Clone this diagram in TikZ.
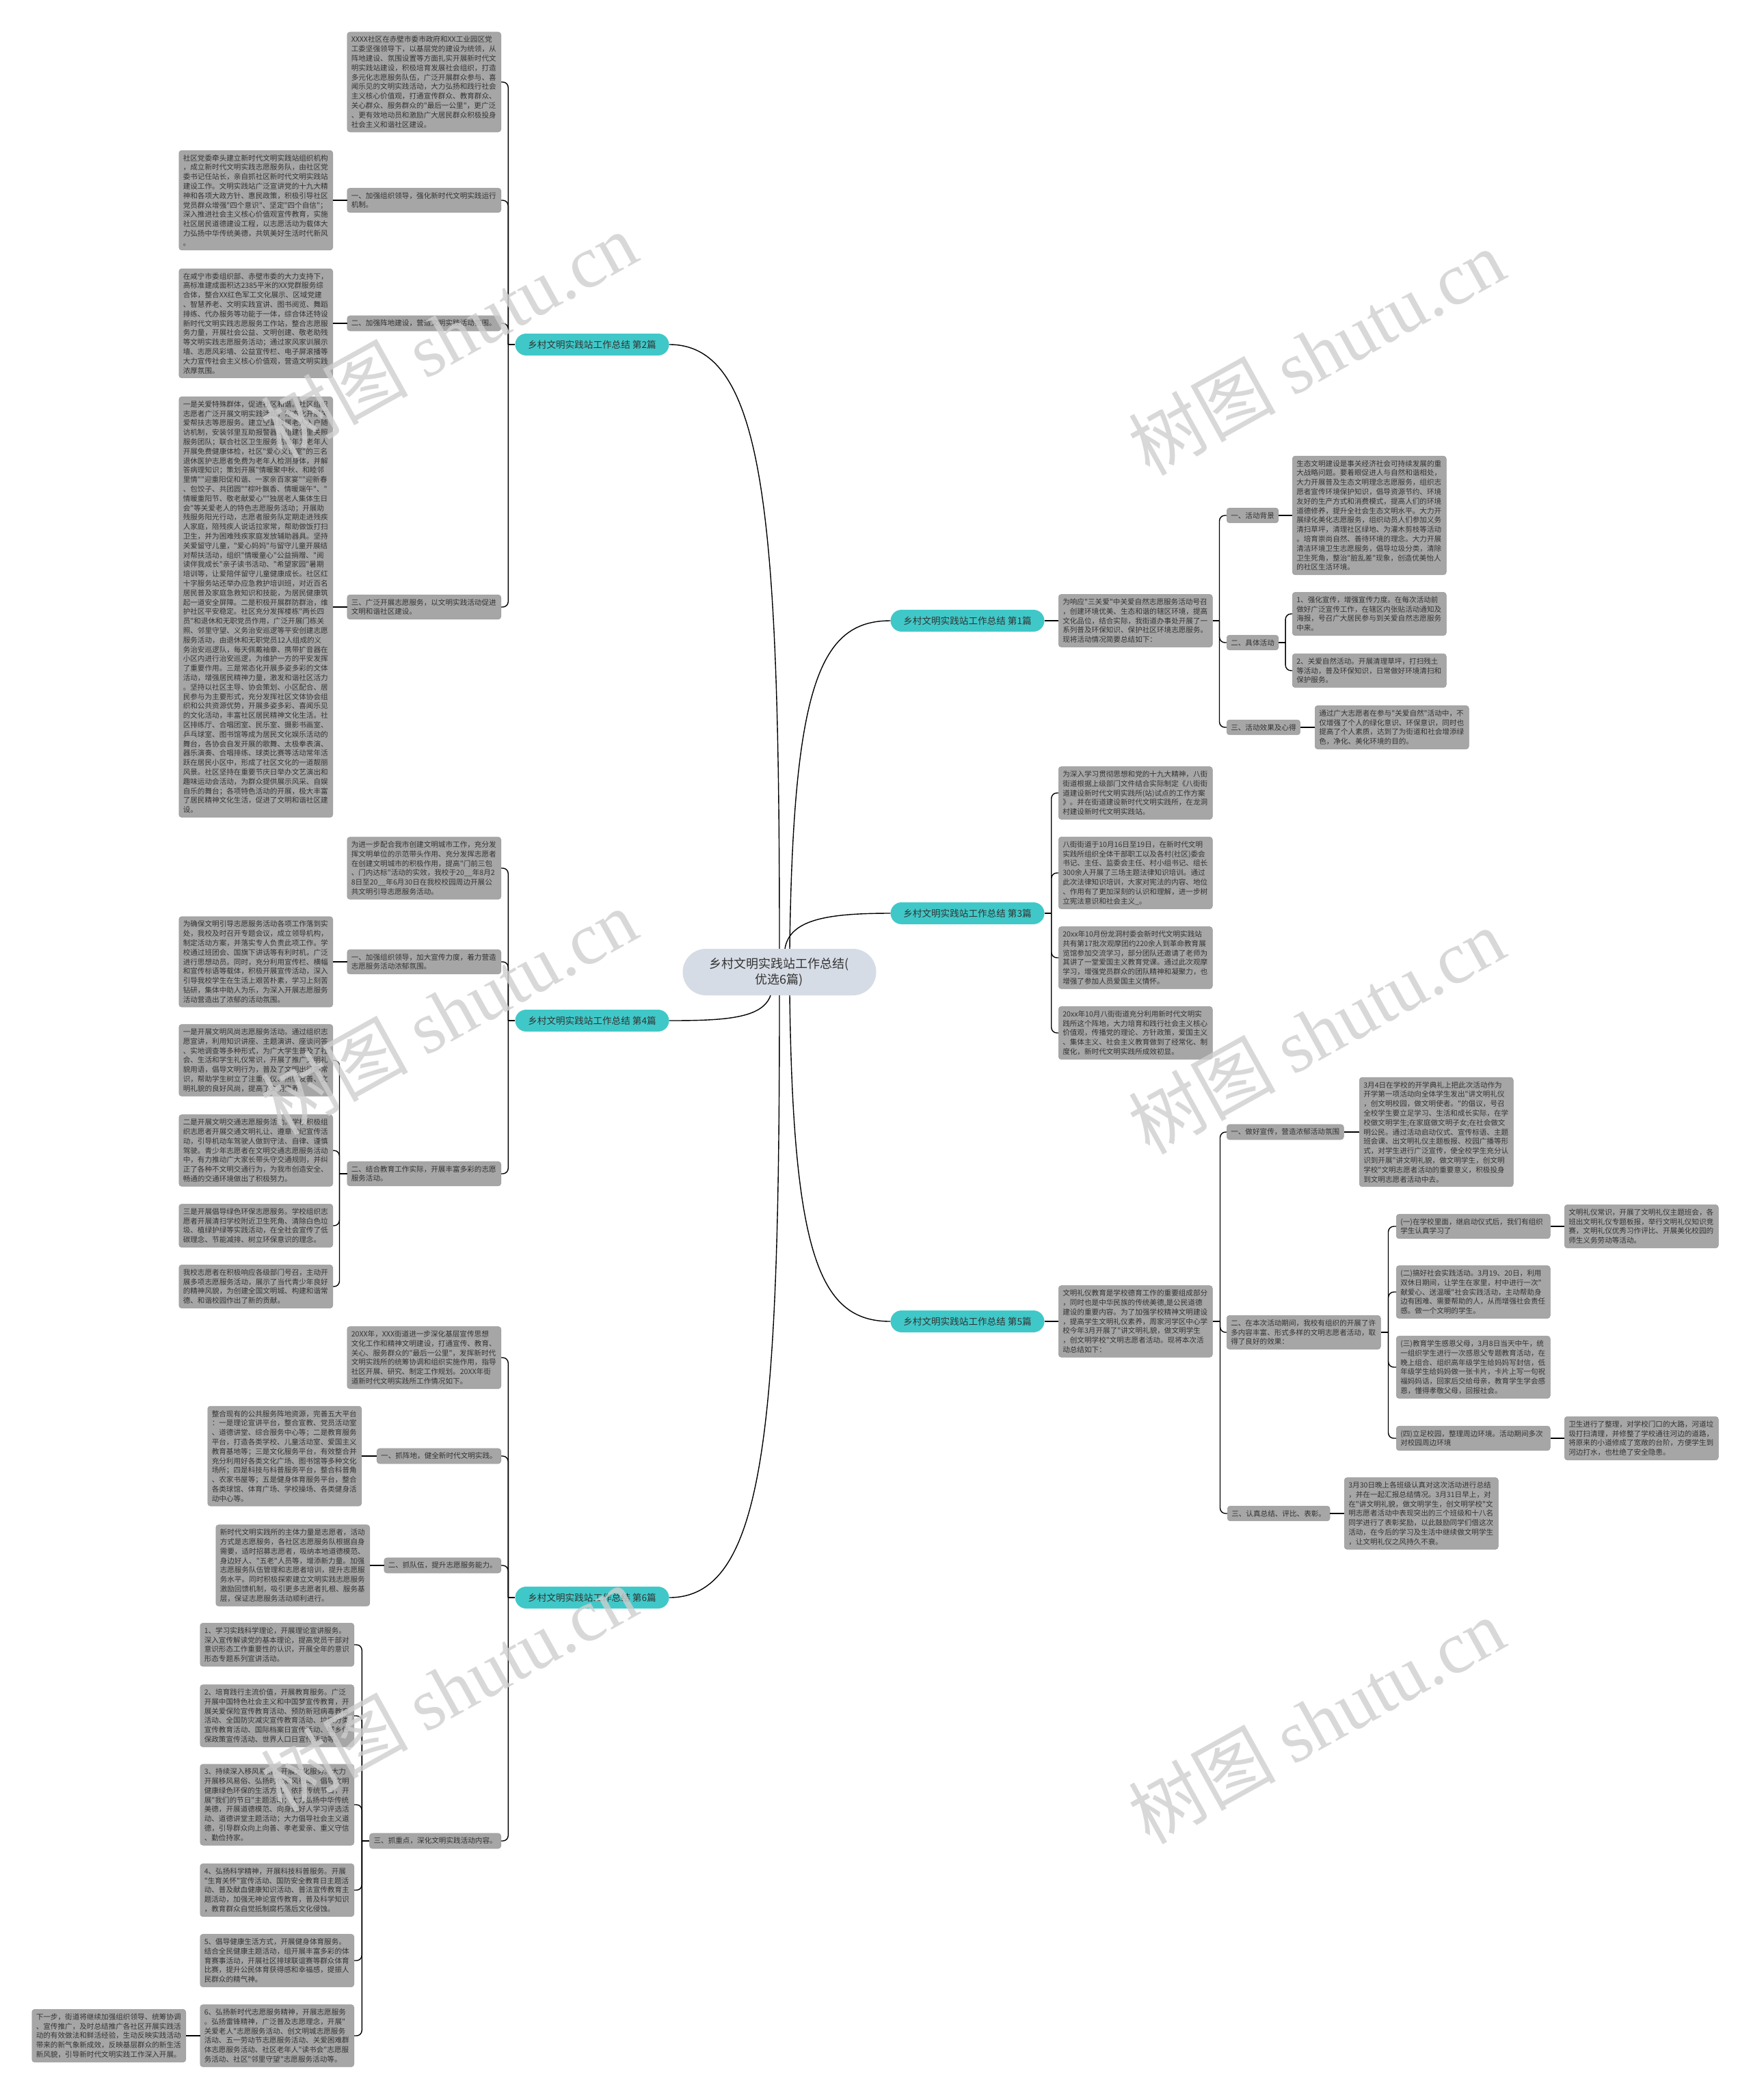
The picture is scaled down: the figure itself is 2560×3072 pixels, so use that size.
\documentclass[tikz,border=0pt]{standalone}
\usepackage{fontspec}
\newfontfamily\cjk{Noto Sans CJK SC}
\newfontfamily\wmlatin{Liberation Serif}
\usetikzlibrary{calc}
\definecolor{boxfill}{HTML}{A6A6A6}
\definecolor{boxline}{HTML}{989898}
\definecolor{txtc}{HTML}{333333}
\definecolor{brteal}{HTML}{40C8C8}
\definecolor{rootfill}{HTML}{D6DCE5}
\definecolor{wmc}{HTML}{CFCFCF}
\newcommand\bxfont{\cjk\fontsize{10.6pt}{13.8pt}\selectfont}
\begin{document}
\cjk
\begin{tikzpicture}[x=1pt,y=-1pt,
  box/.style={draw=boxline,line width=0.5pt,fill=boxfill,rounded corners=4pt,text=txtc,font=\bxfont,align=left,inner xsep=6pt,inner ysep=6pt},
  tbox/.style={box,text width=213pt},
  branch/.style={fill=brteal,rounded corners=16pt,minimum width=225pt,minimum height=32pt,text=txtc,font=\cjk\fontsize{13.6pt}{16pt}\selectfont,inner sep=0pt},
  rootnode/.style={fill=rootfill,rounded corners=34pt,minimum width=283pt,minimum height=68pt,text=txtc,font=\cjk\fontsize{18pt}{23pt}\selectfont,align=center,inner sep=0pt},
  conn/.style={draw=black,line width=1.4pt},
  fork/.style={conn,rounded corners=8pt},
  wmark/.style={text=wmc,opacity=0.8,rotate=29,font=\cjk\fontsize{108pt}{120pt}\selectfont,inner sep=0pt}
]
\useasboundingbox (0,0) rectangle (2560,3072);
\fill[white] (0,0) rectangle (2560,3072);

% ---------------- root and branches
\node[rootnode] (root) at (1140,1422) {乡村文明实践站工作总结(\\优选6篇)};
\node[branch] (b1) at (1415,908) {乡村文明实践站工作总结 第1篇};
\node[branch] (b2) at (866,504) {乡村文明实践站工作总结 第2篇};
\node[branch] (b3) at (1415,1336) {乡村文明实践站工作总结 第3篇};
\node[branch] (b4) at (866,1493) {乡村文明实践站工作总结 第4篇};
\node[branch] (b5) at (1415,1933) {乡村文明实践站工作总结 第5篇};
\node[branch] (b6) at (866,2337) {乡村文明实践站工作总结 第6篇};

% ---------------- 第2篇
\node[tbox,anchor=east] (p2) at (733,120) {XXXX社区在赤壁市委市政府和XX工业园区党\\工委坚强领导下，以基层党的建设为统领，从\\阵地建设、氛围设置等方面扎实开展新时代文\\明实践站建设，积极培育发展社会组织，打造\\多元化志愿服务队伍，广泛开展群众参与、喜\\闻乐见的文明实践活动，大力弘扬和践行社会\\主义核心价值观，打通宣传群众、教育群众、\\关心群众、服务群众的"最后一公里"，更广泛\\、更有效地动员和激励广大居民群众积极投身\\社会主义和谐社区建设。};
\node[tbox,anchor=east] (l2a) at (733,293) {一、加强组织领导，强化新时代文明实践运行\\机制。};
\node[tbox,anchor=east] (c2a) at (487,293) {社区党委牵头建立新时代文明实践站组织机构\\，成立新时代文明实践志愿服务队，由社区党\\委书记任站长，亲自抓社区新时代文明实践站\\建设工作。文明实践站广泛宣讲党的十九大精\\神和各项大政方针、惠民政策，积极引导社区\\党员群众增强"四个意识"、坚定"四个自信"；\\深入推进社会主义核心价值观宣传教育，实施\\社区居民道德建设工程，以志愿活动为载体大\\力弘扬中华传统美德，共筑美好生活时代新风\\。};
\node[tbox,anchor=east] (l2b) at (733,473) {二、加强阵地建设，营造文明实践活动氛围。};
\node[tbox,anchor=east] (c2b) at (487,473) {在咸宁市委组织部、赤壁市委的大力支持下，\\高标准建成面积达2385平米的XX党群服务综\\合体，整合XX红色军工文化展示、区域党建\\、智慧养老、文明实践宣讲、图书阅览、舞蹈\\排练、代办服务等功能于一体，综合体还特设\\新时代文明实践志愿服务工作站，整合志愿服\\务力量，开展社会公益、文明创建、敬老助残\\等文明实践志愿服务活动；通过家风家训展示\\墙、志愿风彩墙、公益宣传栏、电子屏滚播等\\大力宣传社会主义核心价值观，营造文明实践\\浓厚氛围。};
\node[tbox,anchor=east] (l2c) at (733,888) {三、广泛开展志愿服务，以文明实践活动促进\\文明和谐社区建设。};
\node[tbox,anchor=east] (c2c) at (487,888) {一是关爱特殊群体，促进社区和谐。社区组织\\志愿者广泛开展文明实践活动，常态化开展关\\爱帮扶志等愿服务。建立空巢独居老人入户随\\访机制，安装邻里互助报警器，组建邻里关照\\服务团队；联合社区卫生服务站每年为老年人\\开展免费健康体检，社区"爱心义诊室"的三名\\退休医护志愿者免费为老年人检测身体，并解\\答病理知识；策划开展"情暖聚中秋、和睦邻\\里情""迎重阳促和谐、一家亲百家宴""迎新春\\、包饺子、共团圆""棕叶飘香、情暖端午"、"\\情暖重阳节、敬老献爱心""独居老人集体生日\\会"等关爱老人的特色志愿服务活动；开展助\\残服务阳光行动，志愿者服务队定期走进残疾\\人家庭，陪残疾人说话拉家常，帮助做饭打扫\\卫生，并为困难残疾家庭发放辅助器具。坚持\\关爱留守儿童，"爱心妈妈"与留守儿童开展结\\对帮扶活动，组织"情暖童心"公益捐赠、"阅\\读伴我成长"亲子读书活动、"希望家园"暑期\\培训等，让爱陪伴留守儿童健康成长。社区红\\十字服务站还举办应急救护培训班，对近百名\\居民普及家庭急救知识和技能，为居民健康筑\\起一道安全屏障。二是积极开展群防群治，维\\护社区平安稳定。社区充分发挥楼栋"两长四\\员"和退休和无职党员作用，广泛开展门栋关\\照、邻里守望、义务治安巡逻等平安创建志愿\\服务活动，由退休和无职党员12人组成的义\\务治安巡逻队，每天佩戴袖章、携带扩音器在\\小区内进行治安巡逻，为维护一方的平安发挥\\了重要作用。三是常态化开展多姿多彩的文体\\活动，增强居民精神力量，激发和谐社区活力\\。坚持以社区主导、协会策划、小区配合、居\\民参与为主要形式，充分发挥社区文体协会组\\织和公共资源优势，开展多姿多彩、喜闻乐见\\的文化活动，丰富社区居民精神文化生活。社\\区排练厅、合唱团室、民乐室、摄影书画室、\\乒乓球室、图书馆等成为居民文化娱乐活动的\\舞台，各协会自发开展的歌舞、太极拳表演、\\器乐演奏、合唱排练、球类比赛等活动常年活\\跃在居民小区中，形成了社区文化的一道靓丽\\风景。社区坚持在重要节庆日举办文艺演出和\\趣味运动会活动，为群众提供展示风采、自娱\\自乐的舞台；各项特色活动的开展，极大丰富\\了居民精神文化生活，促进了文明和谐社区建\\设。};

% ---------------- 第4篇
\node[tbox,anchor=east] (p4) at (733,1270) {为进一步配合我市创建文明城市工作，充分发\\挥文明单位的示范带头作用、充分发挥志愿者\\在创建文明城市的积极作用，提高"门前三包\\、门内达标"活动的实效，我校于20\_\_年8月2\\8日至20\_\_年6月30日在我校校园周边开展公\\共文明引导志愿服务活动。};
\node[tbox,anchor=east] (l4a) at (733,1407) {一、加强组织领导，加大宣传力度，着力营造\\志愿服务活动浓郁氛围。};
\node[tbox,anchor=east] (c4a) at (487,1407) {为确保文明引导志愿服务活动各项工作落到实\\处，我校及时召开专题会议，成立领导机构，\\制定活动方案，并落实专人负责此项工作。学\\校通过班团会、国旗下讲话等有利时机，广泛\\进行思想动员。同时，充分利用宣传栏、横幅\\和宣传标语等载体，积极开展宣传活动，深入\\引导我校学生在生活上艰苦朴素，学习上刻苦\\钻研，集体中助人为乐，为深入开展志愿服务\\活动营造出了浓郁的活动氛围。};
\node[tbox,anchor=east] (l4b) at (733,1717) {二、结合教育工作实际，开展丰富多彩的志愿\\服务活动。};
\node[tbox,anchor=east] (d4a) at (487,1551) {一是开展文明风尚志愿服务活动。通过组织志\\愿宣讲，利用知识讲座、主题演讲、座谈问答\\、实地调查等多种形式，为广大学生普及了社\\会、生活和学生礼仪常识，开展了推广文明礼\\貌用语，倡导文明行为，普及了文明出行等常\\识，帮助学生树立了注重礼仪、热情友善、文\\明礼貌的良好风尚，提高了文明素养。};
\node[tbox,anchor=east] (d4b) at (487,1683) {二是开展文明交通志愿服务活动。学校积极组\\织志愿者开展交通文明礼让、遵章守纪宣传活\\动，引导机动车驾驶人做到守法、自律、谨慎\\驾驶。青少年志愿者在文明交通志愿服务活动\\中，有力推动广大家长带头守交通规则，并纠\\正了各种不文明交通行为，为我市创造安全、\\畅通的交通环境做出了积极努力。};
\node[tbox,anchor=east] (d4c) at (487,1793) {三是开展倡导绿色环保志愿服务。学校组织志\\愿者开展清扫学校附近卫生死角、清除白色垃\\圾、植绿护绿等实践活动，在全社会宣传了低\\碳理念、节能减排、树立环保意识的理念。};
\node[tbox,anchor=east] (d4d) at (487,1882) {我校志愿者在积极响应各级部门号召，主动开\\展多项志愿服务活动，展示了当代青少年良好\\的精神风貌，为创建全国文明城、构建和谐常\\德、和谐校园作出了新的贡献。};

% ---------------- 第6篇
\node[tbox,anchor=east] (p6) at (733,1986) {20XX年，XXX街道进一步深化基层宣传思想\\文化工作和精神文明建设，打通宣传、教育、\\关心、服务群众的"最后一公里"，发挥新时代\\文明实践所的统筹协调和组织实施作用，指导\\社区开展、研究、制定工作规划。20XX年街\\道新时代文明实践所工作情况如下。};
\node[box,anchor=east] (l6a) at (733,2130) {一、抓阵地，健全新时代文明实践。};
\node[tbox,anchor=east] (c6a) at (529,2130) {整合现有的公共服务阵地资源，完善五大平台\\：一是理论宣讲平台，整合宣教、党员活动室\\、道德讲堂、综合服务中心等；二是教育服务\\平台，打造各类学校、儿童活动室、爱国主义\\教育基地等；三是文化服务平台，有效整合并\\充分利用好各类文化广场、图书馆等多种文化\\场所；四是科技与科普服务平台，整合科普角\\、农家书屋等；五是健身体育服务平台，整合\\各类球馆、体育广场、学校操场、各类健身活\\动中心等。};
\node[box,anchor=east] (l6b) at (733,2290) {二、抓队伍，提升志愿服务能力。};
\node[tbox,anchor=east] (c6b) at (541,2290) {新时代文明实践所的主体力量是志愿者，活动\\方式是志愿服务，各社区志愿服务队根据自身\\需要，适时招募志愿者，吸纳本地道德模范、\\身边好人、"五老"人员等，增添新力量。加强\\志愿服务队伍管理和志愿者培训，提升志愿服\\务水平。同时积极探索建立文明实践志愿服务\\激励回馈机制，吸引更多志愿者扎根、服务基\\层，保证志愿服务活动顺利进行。};
\node[box,anchor=east] (l6c) at (733,2693) {三、抓重点，深化文明实践活动内容。};
\node[tbox,anchor=east] (n1) at (518,2406) {1、学习实践科学理论，开展理论宣讲服务。\\深入宣传解读党的基本理论，提高党员干部对\\意识形态工作重要性的认识，开展全年的意识\\形态专题系列宣讲活动。};
\node[tbox,anchor=east] (n2) at (518,2510) {2、培育践行主流价值，开展教育服务。广泛\\开展中国特色社会主义和中国梦宣传教育，开\\展关爱保险宣传教育活动、预防新冠病毒教育\\活动、全国防灾减灾宣传教育活动、垃圾分类\\宣传教育活动、国际档案日宣传活动、城乡低\\保政策宣传活动、世界人口日宣传活动等。};
\node[tbox,anchor=east] (n3) at (518,2640) {3、持续深入移风易俗，开展文化服务。大力\\开展移风易俗、弘扬时代新风行动，倡导文明\\健康绿色环保的生活方式。依托传统节日，开\\展"我们的节日"主题活动；大力弘扬中华传统\\美德，开展道德模范、向身边好人学习评选活\\动、道德讲堂主题活动；大力倡导社会主义道\\德，引导群众向上向善、孝老爱亲、重义守信\\、勤俭持家。};
\node[tbox,anchor=east] (n4) at (518,2765) {4、弘扬科学精神，开展科技科普服务。开展\\"生育关怀"宣传活动、国防安全教育日主题活\\动、普及献血健康知识活动、普法宣传教育主\\题活动，加强无神论宣传教育，普及科学知识\\，教育群众自觉抵制腐朽落后文化侵蚀。};
\node[tbox,anchor=east] (n5) at (518,2868) {5、倡导健康生活方式，开展健身体育服务。\\结合全民健康主题活动，组开展丰富多彩的体\\育赛事活动，开展社区排球联谊赛等群众体育\\比赛，提升公民体育获得感和幸福感，提振人\\民群众的精气神。};
\node[tbox,anchor=east] (n6) at (518,2978) {6、弘扬新时代志愿服务精神，开展志愿服务\\。弘扬雷锋精神，广泛普及志愿理念，开展"\\关爱老人"志愿服务活动、创文明城志愿服务\\活动、五一劳动节志愿服务活动、关爱困难群\\体志愿服务活动、社区老年人"读书会"志愿服\\务活动、社区"邻里守望"志愿服务活动等。};
\node[tbox,anchor=east] (n6c) at (272,2978) {下一步，街道将继续加强组织领导、统筹协调\\、宣传推广，及时总结推广各社区开展实践活\\动的有效做法和鲜活经验，生动反映实践活动\\带来的新气象新成效，反映基层群众的新生活\\新风貌，引导新时代文明实践工作深入开展。};

% ---------------- 第1篇
\node[tbox,anchor=west] (i1) at (1548,908) {为响应"三关爱"中关爱自然志愿服务活动号召\\，创建环境优美、生态和谐的辖区环境，提高\\文化品位，结合实际，我街道办事处开展了一\\系列普及环保知识、保护社区环境志愿服务。\\现将活动情况简要总结如下：};
\node[box,anchor=west] (l1a) at (1794,754) {一、活动背景};
\node[tbox,anchor=west] (c1a) at (1890,754) {生态文明建设是事关经济社会可持续发展的重\\大战略问题。要着眼促进人与自然和谐相处，\\大力开展普及生态文明理念志愿服务，组织志\\愿者宣传环境保护知识，倡导资源节约、环境\\友好的生产方式和消费模式，提高人们的环境\\道德修养，提升全社会生态文明水平。大力开\\展绿化美化志愿服务，组织动员人们参加义务\\清扫草坪，清理社区绿地、为灌木剪枝等活动\\。培育崇尚自然、善待环境的理念。大力开展\\清洁环境卫生志愿服务，倡导垃圾分类，清除\\卫生死角，整治"脏乱差"现象，创造优美怡人\\的社区生活环境。};
\node[box,anchor=west] (l1b) at (1794,940) {二、具体活动};
\node[tbox,anchor=west] (c1b1) at (1890,898) {1、强化宣传，增强宣传力度。在每次活动前\\做好广泛宣传工作，在辖区内张贴活动通知及\\海报，号召广大居民参与到关爱自然志愿服务\\中来。};
\node[tbox,anchor=west] (c1b2) at (1890,981) {2、关爱自然活动。开展清理草坪，打扫残土\\等活动，普及环保知识，日常做好环境清扫和\\保护服务。};
\node[box,anchor=west] (l1c) at (1794,1064) {三、活动效果及心得};
\node[tbox,anchor=west] (c1c) at (1923,1064) {通过广大志愿者在参与"关爱自然"活动中，不\\仅增强了个人的绿化意识、环保意识，同时也\\提高了个人素质，达到了为街道和社会增添绿\\色，净化、美化环境的目的。};

% ---------------- 第3篇
\node[tbox,anchor=west] (d3a) at (1548,1160) {为深入学习贯彻思想和党的十九大精神，八街\\街道根据上级部门文件结合实际制定《八街街\\道建设新时代文明实践所(站)试点的工作方案\\》。并在街道建设新时代文明实践所，在龙洞\\村建设新时代文明实践站。};
\node[tbox,anchor=west] (d3b) at (1548,1277) {八街街道于10月16日至19日，在新时代文明\\实践所组织全体干部职工以及各村(社区)委会\\书记、主任、监委会主任、村小组书记、组长\\300余人开展了三场主题法律知识培训。通过\\此次法律知识培训，大家对宪法的内容、地位\\、作用有了更加深刻的认识和理解，进一步树\\立宪法意识和社会主义\_。};
\node[tbox,anchor=west] (d3c) at (1548,1401) {20xx年10月份龙洞村委会新时代文明实践站\\共有第17批次观摩团约220余人到革命教育展\\览馆参加交流学习，部分团队还邀请了老师为\\其讲了一堂爱国主义教育党课。通过此次观摩\\学习，增强党员群众的团队精神和凝聚力，也\\增强了参加人员爱国主义情怀。};
\node[tbox,anchor=west] (d3d) at (1548,1511) {20xx年10月八街街道充分利用新时代文明实\\践所这个阵地，大力培育和践行社会主义核心\\价值观，传播党的理论、方针政策，爱国主义\\、集体主义、社会主义教育做到了经常化、制\\度化，新时代文明实践所成效初显。};

% ---------------- 第5篇
\node[tbox,anchor=west] (i5) at (1548,1933) {文明礼仪教育是学校德育工作的重要组成部分\\，同时也是中华民族的传统美德,是公民道德\\建设的重要内容。为了加强学校精神文明建设\\，提高学生文明礼仪素养，周家河学区中心学\\校今年3月开展了"讲文明礼貌，做文明学生\\，创文明学校"文明志愿者活动。现将本次活\\动总结如下：};
\node[box,anchor=west] (l5a) at (1794,1656) {一、做好宣传，营造浓郁活动氛围};
\node[tbox,anchor=west] (c5a) at (1988,1656) {3月4日在学校的开学典礼上把此次活动作为\\开学第一项活动向全体学生发出"讲文明礼仪\\，创文明校园，做文明使者。"的倡议，号召\\全校学生要立足学习、生活和成长实际，在学\\校做文明学生;在家庭做文明子女;在社会做文\\明公民。通过活动启动仪式、宣传标语、主题\\班会课、出文明礼仪主题板报、校园广播等形\\式，对学生进行广泛宣传，使全校学生充分认\\识到开展"讲文明礼貌，做文明学生，创文明\\学校"文明志愿者活动的重要意义，积极投身\\到文明志愿者活动中去。};
\node[tbox,anchor=west] (l5b) at (1794,1949) {二、在本次活动期间，我校有组织的开展了许\\多内容丰富、形式多样的文明志愿者活动，取\\得了良好的效果：};
\node[tbox,anchor=west] (e1) at (2042,1794) {(一)在学校里面，继启动仪式后，我们有组织\\学生认真学习了};
\node[tbox,anchor=west] (e1c) at (2288,1794) {文明礼仪常识，开展了文明礼仪主题班会，各\\班出文明礼仪专题板报，举行文明礼仪知识竞\\赛，文明礼仪优秀习作评比、开展美化校园的\\师生义务劳动等活动。};
\node[tbox,anchor=west] (e2) at (2042,1890) {(二)搞好社会实践活动。3月19、20日，利用\\双休日期间，让学生在家里，村中进行一次"\\献爱心、送温暖"社会实践活动，主动帮助身\\边有困难、需要帮助的人，从而增强社会责任\\感。做一个文明的学生。};
\node[tbox,anchor=west] (e3) at (2042,2000) {(三)教育学生感恩父母，3月8日当天中午，统\\一组织学生进行一次感恩父专题教育活动，在\\晚上组合、组织高年级学生给妈妈写封信，低\\年级学生给妈妈做一张卡片，卡片上写一句祝\\福妈妈话，回家后交给母亲，教育学生学会感\\恩，懂得孝敬父母，回报社会。};
\node[tbox,anchor=west] (e4) at (2042,2104) {(四)立足校园，整理周边环境。活动期间多次\\对校园周边环境};
\node[tbox,anchor=west] (e4c) at (2288,2104) {卫生进行了整理，对学校门口的大路，河道垃\\圾打扫清理，并修整了学校通往河边的道路，\\将原来的小道修成了宽敞的台阶，方便学生到\\河边打水，也杜绝了安全隐患。};
\node[box,anchor=west] (l5c) at (1795,2214) {三、认真总结、评比、表彰。};
\node[tbox,anchor=west] (c5c) at (1966,2214) {3月30日晚上各班级认真对这次活动进行总结\\，并在一起汇报总结情况。3月31日早上，对\\在"讲文明礼貌，做文明学生，创文明学校"文\\明志愿者活动中表现突出的三个班级和十八名\\同学进行了表彰奖励，以此鼓励同学们借这次\\活动，在今后的学习及生活中继续做文明学生\\，让文明礼仪之风持久不衰。};

% ---------------- connectors: root to branches
\draw[conn] (b2.east) .. controls (1120,504) and (1140,760) .. (root.north);
\draw[conn] (b6.east) .. controls (1120,2337) and (1140,2085) .. (root.south);
\draw[conn] ([xshift=-13pt]root.south) .. controls (1115,1490) and (1060,1493) .. (b4.east);
\draw[conn] ([xshift=15pt]root.north) .. controls (1160,1000) and (1200,908) .. (b1.west);
\draw[conn] ([xshift=8pt]root.north) .. controls (1155,1345) and (1210,1336) .. (b3.west);
\draw[conn] ([xshift=15pt]root.south) .. controls (1160,1840) and (1200,1933) .. (b5.west);

% ---------------- connectors: 第2篇
\coordinate (t2) at ([xshift=-10pt]b2.west);
\draw[conn] (b2.west) -- (t2);
\foreach \c in {p2,l2a,l2b,l2c} \draw[fork] (t2) |- (\c.east);
\draw[conn] (l2a.west) -- (c2a.east);
\draw[conn] (l2b.west) -- (c2b.east);
\draw[conn] (l2c.west) -- (c2c.east);

% ---------------- connectors: 第4篇
\coordinate (t4) at ([xshift=-10pt]b4.west);
\draw[conn] (b4.west) -- (t4);
\foreach \c in {p4,l4a,l4b} \draw[fork] (t4) |- (\c.east);
\draw[conn] (l4a.west) -- (c4a.east);
\coordinate (t4b) at ([xshift=-11pt]l4b.west);
\draw[conn] (l4b.west) -- (t4b);
\foreach \c in {d4a,d4b,d4c,d4d} \draw[fork] (t4b) |- (\c.east);

% ---------------- connectors: 第6篇
\coordinate (t6) at ([xshift=-10pt]b6.west);
\draw[conn] (b6.west) -- (t6);
\foreach \c in {p6,l6a,l6b,l6c} \draw[fork] (t6) |- (\c.east);
\draw[conn] (l6a.west) -- (c6a.east);
\draw[conn] (l6b.west) -- (c6b.east);
\coordinate (t6c) at ([xshift=-11pt]l6c.west);
\draw[conn] (l6c.west) -- (t6c);
\foreach \c in {n1,n2,n3,n4,n5,n6} \draw[fork] (t6c) |- (\c.east);
\draw[conn] (n6.west) -- (n6c.east);

% ---------------- connectors: 第1篇
\draw[conn] (b1.east) -- (i1.west);
\coordinate (t1) at ([xshift=10pt]i1.east);
\draw[conn] (i1.east) -- (t1);
\foreach \c in {l1a,l1b,l1c} \draw[fork] (t1) |- (\c.west);
\draw[conn] (l1a.east) -- (c1a.west);
\coordinate (t1b) at ([xshift=10pt]l1b.east);
\draw[conn] (l1b.east) -- (t1b);
\foreach \c in {c1b1,c1b2} \draw[fork] (t1b) |- (\c.west);
\draw[conn] (l1c.east) -- (c1c.west);

% ---------------- connectors: 第3篇
\coordinate (t3) at ([xshift=10pt]b3.east);
\draw[conn] (b3.east) -- (t3);
\foreach \c in {d3a,d3b,d3c,d3d} \draw[fork] (t3) |- (\c.west);

% ---------------- connectors: 第5篇
\draw[conn] (b5.east) -- (i5.west);
\coordinate (t5) at ([xshift=11pt]i5.east);
\draw[conn] (i5.east) -- (t5);
\foreach \c in {l5a,l5b,l5c} \draw[fork] (t5) |- (\c.west);
\draw[conn] (l5a.east) -- (c5a.west);
\coordinate (t5b) at ([xshift=11pt]l5b.east);
\draw[conn] (l5b.east) -- (t5b);
\foreach \c in {e1,e2,e3,e4} \draw[fork] (t5b) |- (\c.west);
\draw[conn] (e1.east) -- (e1c.west);
\draw[conn] (e4.east) -- (e4c.west);
\draw[conn] (l5c.east) -- (c5c.west);

% ---------------- watermarks
\node[wmark] (wm1) at (656,490) {树图 {\wmlatin shutu.cn}};
\node[wmark] (wm2) at (1925,515) {树图 {\wmlatin shutu.cn}};
\node[wmark] (wm3) at (656,1480) {树图 {\wmlatin shutu.cn}};
\node[wmark] (wm4) at (1925,1508) {树图 {\wmlatin shutu.cn}};
\node[wmark] (wm5) at (656,2470) {树图 {\wmlatin shutu.cn}};
\node[wmark] (wm6) at (1925,2517) {树图 {\wmlatin shutu.cn}};
\end{tikzpicture}
\end{document}
